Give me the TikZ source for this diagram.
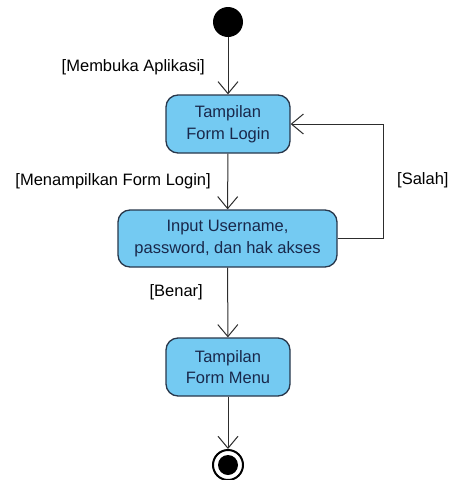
\documentclass[tikz,border=0pt]{standalone}
\usepackage{fontspec}
\setmainfont{Liberation Sans}
\usetikzlibrary{arrows.meta}
\definecolor{boxfill}{RGB}{116,202,242}
\definecolor{boxline}{RGB}{40,55,75}
\definecolor{boxtext}{RGB}{25,40,75}
\definecolor{lineclr}{RGB}{45,45,45}
\begin{document}
\begin{tikzpicture}[x=1pt,y=-1pt,
  act/.style={draw=boxline,fill=boxfill,line width=1.3pt,rounded corners=12pt,
    align=center,text=boxtext,font=\fontsize{16.5}{21.5}\selectfont,inner sep=0pt},
  flow/.style={draw=lineclr,line width=1pt,-{Straight Barb[length=12pt,width=20pt,line width=1pt]}},
  guard/.style={font=\fontsize{16.5}{18}\selectfont,text=black,inner sep=0pt}]
\useasboundingbox (0,0) rectangle (451,480);
\node[circle,fill=black,minimum size=30pt,inner sep=0pt] (start) at (228,22) {};
\node[act,minimum width=124pt,minimum height=58pt] (login) at (228,124) {Tampilan\\Form Login};
\node[act,minimum width=219pt,minimum height=57pt] (input) at (227.5,238.5) {Input Username,\\password, dan hak akses};
\node[act,minimum width=124pt,minimum height=58pt] (menu) at (228,367) {Tampilan\\Form Menu};
\node[circle,draw=black,fill=white,line width=2pt,minimum size=30pt,inner sep=0pt] (end) at (228,465) {};
\node[circle,fill=black,minimum size=20pt,inner sep=0pt] (endin) at (228,465) {};
\coordinate (c1) at (383,238.5);
\coordinate (c2) at (383,124);
\draw[flow] (start) -- (login);
\draw[flow] (login) -- (input);
\draw[flow] (input) -- (menu);
\draw[flow] (menu) -- (end);
\draw[flow] (input.east) -- (c1) -- (c2) -- (login.east);
\node[guard,anchor=east] (g1) at (205,67) {[Membuka Aplikasi]};
\node[guard,anchor=east] (g2) at (211,181) {[Menampilkan Form Login]};
\node[guard,anchor=west] (g3) at (397,180) {[Salah]};
\node[guard,anchor=east] (g4) at (203,292) {[Benar]};
\end{tikzpicture}
\end{document}
